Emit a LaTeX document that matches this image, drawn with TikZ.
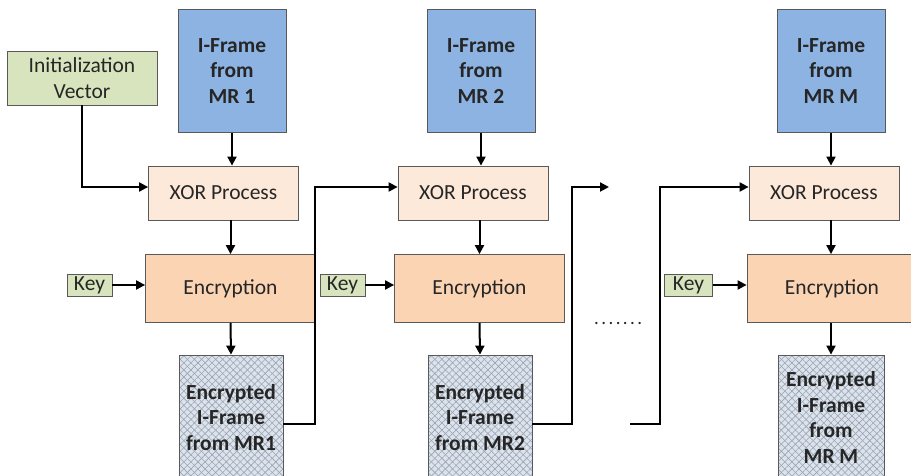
\documentclass[tikz,border=0pt]{standalone}
\usepackage{fontspec}
\setmainfont{Carlito}
\usetikzlibrary{arrows.meta,patterns.meta}
\definecolor{txt}{HTML}{262626}
\definecolor{bord}{HTML}{595959}
\definecolor{frameblue}{HTML}{8DB3E2}
\definecolor{ivgreen}{HTML}{D7E4BD}
\definecolor{xorfill}{HTML}{FDE9D9}
\definecolor{encfill}{HTML}{FBD4B4}
\definecolor{hatchfill}{HTML}{DDE3EB}
\definecolor{hatchline}{HTML}{98A4B6}
\tikzset{
  box/.style={draw=bord, line width=0.8pt, text=txt, align=center, inner sep=0pt,
    font=\fontsize{21.5}{25.5}\selectfont},
  ivbox/.style={box, fill=ivgreen, minimum width=150pt, minimum height=54pt},
  keybox/.style={box, fill=ivgreen, minimum width=45pt, minimum height=22pt},
  framebox/.style={box, fill=frameblue, minimum width=108pt, minimum height=123pt,
    font=\fontsize{21.5}{25.5}\selectfont\bfseries},
  xorbox/.style={box, fill=xorfill, minimum width=150pt, minimum height=54pt},
  encbox/.style={box, fill=encfill, minimum width=170pt, minimum height=68pt},
  cryptbox/.style={box, fill=hatchfill, minimum width=104pt, minimum height=125pt,
    font=\fontsize{21.5}{25.5}\selectfont\bfseries,
    postaction={pattern={Lines[angle=45,distance=5pt,line width=0.6pt]}, pattern color=hatchline},
    postaction={pattern={Lines[angle=-45,distance=5pt,line width=0.6pt]}, pattern color=hatchline},
    postaction={draw=bord, line width=0.8pt}},
  arr/.style={draw=black, line width=2pt, -{Triangle[length=9pt,width=9pt]}}
}
\begin{document}
\begin{tikzpicture}[x=1pt,y=-1pt]
\useasboundingbox (0,0) rectangle (911,476);
\clip (0,0) rectangle (911,476);

% column 1
\node[ivbox] (IV) at (82,78) {Initialization\\Vector};
\node[framebox] (IF1) at (232,71) {I-Frame\\from\\MR 1};
\node[xorbox] (XOR1) at (223.5,193) {XOR Process};
\node[encbox] (ENC1) at (230.5,288.5) {Encryption};
\node[keybox] (KEY1) at (89.5,285) {Key};
\node[cryptbox] (CR1) at (231,417.5) {Encrypted\\I-Frame\\from MR1};

% column 2
\node[framebox] (IF2) at (481,71) {I-Frame\\from\\MR 2};
\node[xorbox] (XOR2) at (473,193) {XOR Process};
\node[encbox] (ENC2) at (479.5,288.5) {Encryption};
\node[keybox] (KEY2) at (342.5,285) {Key};
\node[cryptbox] (CR2) at (480,417.5) {Encrypted\\I-Frame\\from MR2};

% column M
\node[framebox] (IFM) at (831,71) {I-Frame\\from\\MR M};
\node[xorbox] (XORM) at (824,193) {XOR Process};
\node[encbox] (ENCM) at (832,288.5) {Encryption};
\node[keybox, minimum width=48pt] (KEYM) at (688.5,285) {Key};
\node[cryptbox, minimum width=106pt] (CRM) at (831,417.5) {Encrypted\\I-Frame\\from\\MR M};

% dots
\node[text=txt, font=\fontsize{19}{20}\selectfont, inner sep=0pt, anchor=base west] (dots) at (594,324)
  {.\kern2.4pt.\kern2.4pt.\kern2.4pt.\kern2.4pt.\kern2.4pt.\kern2.4pt.};

\coordinate (c2end) at (609,187);
\coordinate (c3start) at (630,424);

% arrows column 1
\draw[arr] (IV.south) |- ([yshift=6pt]XOR1.west);
\draw[arr] (IF1.south) -- (IF1.south |- XOR1.north);
\draw[arr] (ENC1.north |- XOR1.south) -- (ENC1.north);
\draw[arr] (KEY1.east) -- (ENC1.west |- KEY1.east);
\draw[arr] (ENC1.south) -- (CR1.north);
\draw[arr] ([yshift=-6.5pt]CR1.east) -- ++(32,0) |- ([yshift=6pt]XOR2.west);

% arrows column 2
\draw[arr] (IF2.south) -- (IF2.south |- XOR2.north);
\draw[arr] (ENC2.north |- XOR2.south) -- (ENC2.north);
\draw[arr] (KEY2.east) -- (ENC2.west |- KEY2.east);
\draw[arr] (ENC2.south) -- (CR2.north);
\draw[arr] ([yshift=-6.5pt]CR2.east) -- ++(40,0) |- (c2end);

% arrows column M
\draw[arr] (c3start) -- ++(30,0) |- ([yshift=6pt]XORM.west);
\draw[arr] (IFM.south) -- (IFM.south |- XORM.north);
\draw[arr] (IFM.south |- XORM.south) -- (IFM.south |- ENCM.north);
\draw[arr] (KEYM.east) -- (ENCM.west |- KEYM.east);
\draw[arr] (IFM.south |- ENCM.south) -- (CRM.north);
\end{tikzpicture}
\end{document}
